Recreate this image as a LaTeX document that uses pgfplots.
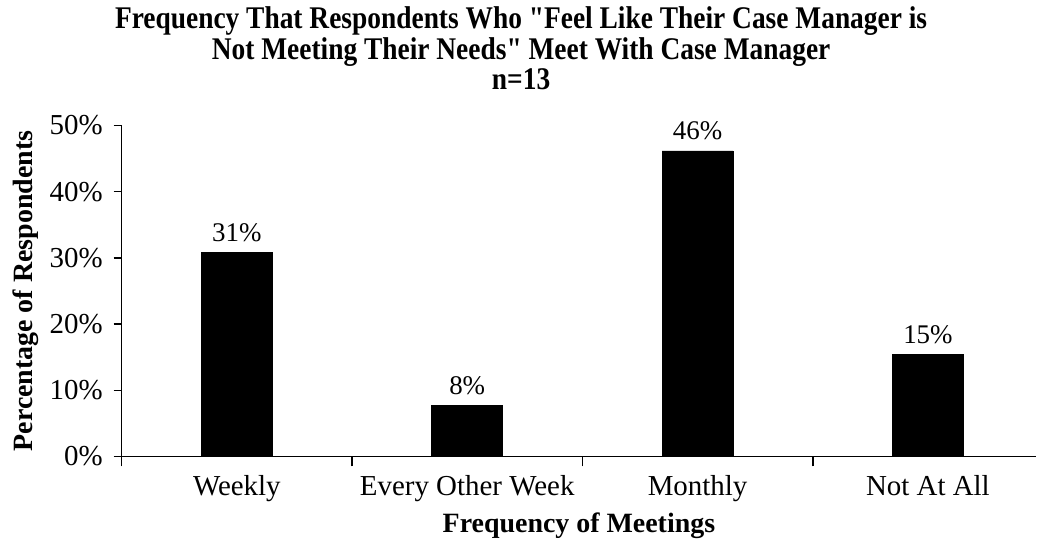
\documentclass[border=0pt]{standalone}
\usepackage{fontspec}
\setmainfont{Liberation Serif}
\newfontfamily\titlefont[FakeStretch=0.87]{Liberation Serif}
\usepackage{pgfplots}
\pgfplotsset{compat=1.18}
\begin{document}
\begin{tikzpicture}
\begin{axis}[
  scale only axis,
  width=458.5pt, height=166pt,
  ybar, bar width=35.5pt,
  xmin=-0.5, xmax=3.47,
  ymin=0, ymax=50,
  axis x line=bottom, axis y line=left,
  axis line style={-, line width=0.8pt},
  xtick={0,1,2,3},
  xticklabels={Weekly, Every Other Week, Monthly, Not At All},
  major x tick style={draw=none},
  minor xtick={-0.5,0.5,1.5,2.5},
  minor x tick style={draw=black, line width=0.8pt},
  minor tick length=5pt,
  ytick={0,10,20,30,40,50},
  yticklabel={\pgfmathprintnumber{\tick}\%},
  y tick style={draw=black, line width=0.8pt},
  tick align=outside,
  major tick length=4pt,
  /pgf/number format/assume math mode=true,
  ticklabel style={font=\fontsize{14.5}{16}\selectfont},
  yticklabel style={xshift=-2pt},
  xticklabel style={yshift=-2pt},
  xlabel={\textbf{Frequency of Meetings}},
  ylabel={\textbf{Percentage of Respondents}},
  label style={font=\fontsize{14}{15}\selectfont},
  ylabel style={yshift=-4pt, inner ysep=6.2pt},
  xlabel style={yshift=2pt, inner sep=4pt},
  title={Frequency That Respondents Who "Feel Like Their Case Manager is\\ Not Meeting Their Needs" Meet With Case Manager\\ n=13},
  title style={align=center, font=\titlefont\bfseries\fontsize{15.8}{13.5}\selectfont, yshift=8.5pt, xshift=-29pt},
  nodes near coords={\pgfmathprintnumber[fixed,precision=0]{\pgfplotspointmeta}\%},
  nodes near coords style={font=\fontsize{13.5}{15}\selectfont, black, yshift=2pt},
  every node near coord/.append style={/pgf/number format/assume math mode=true},
]
\addplot[fill=black, draw=black] coordinates {(0,30.77) (1,7.69) (2,46.15) (3,15.38)};
\end{axis}
\end{tikzpicture}
\end{document}
